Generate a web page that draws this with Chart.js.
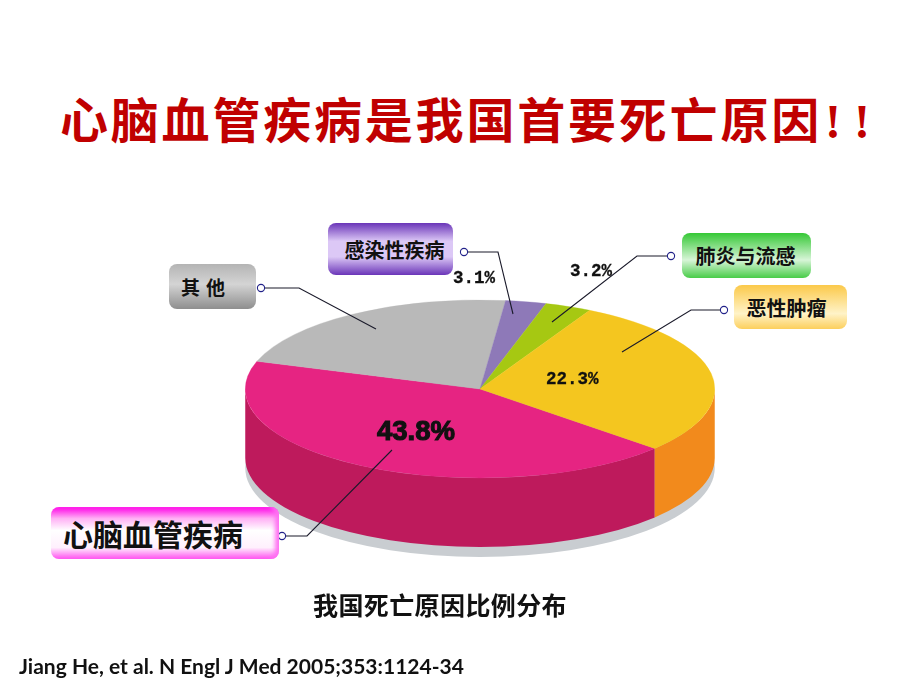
<!DOCTYPE html>
<html>
<head>
<meta charset="utf-8">
<title>我国死亡原因比例分布</title>
<script src="https://cdn.jsdelivr.net/npm/chart.js@4"></script>
<style>
  html, body { margin: 0; padding: 0; background: #fff; overflow: hidden; }
  #page { position: relative; width: 920px; height: 690px; overflow: hidden; }
  #page div { position: absolute; white-space: nowrap; }
  #pieWrap { left: 245px; top: 154px; width: 470px; height: 470px; }
  #leaders { position: absolute; left: 0; top: 0; }
  #title { left: 60px; top: 82px; font: 700 48px/70px "Noto Sans CJK SC"; letter-spacing: 2.8px; color: #c00000; }
  #title span { font-family: "Liberation Serif"; letter-spacing: 13px; margin-left: 3px; }
  .box { display: flex; align-items: center; justify-content: center; box-sizing: border-box;
         font-family: "Noto Sans CJK SC"; font-weight: 700; color: #111; border-radius: 8px; }
  .val { font: 700 17.5px/22px "Liberation Mono"; color: #111; -webkit-text-stroke: 0.3px #111; }
  #bigVal { left: 377px; top: 415px; font: 700 27.5px/32px "Liberation Sans"; color: #111;
            -webkit-text-stroke: 1.1px #111; }
  #caption { left: 313px; top: 587px; font: 700 25px/34px "Noto Sans CJK SC"; letter-spacing: 0.4px; color: #111; }
  #cite { left: 19px; top: 651px; font: 700 21px/30px Lato; color: #111; }
</style>
</head>
<body>
<div id="page">
  <div id="title">心脑血管疾病是我国首要死亡原因<span>!!</span></div>
  <div id="pieWrap"><canvas id="pie" width="470" height="470"></canvas></div>
  <svg id="leaders" width="920" height="690"></svg>
  <div id="caption">我国死亡原因比例分布</div>
  <div id="cite">Jiang He, et al. N Engl J Med 2005;353:1124-34</div>
</div>
<script>
// slice order runs clockwise from the pink slice
const categories = ['心脑血管疾病', '其他', '感染性疾病', '肺炎与流感', '恶性肿瘤'];
// printed percentages, as they appear on the slide (其他 has none)
const printedLabels = ['43.8%', '', '3.1%', '3.2%', '22.3%'];
const drawnShares = [43.4, 21.7, 2.8, 3.2, 28.9];
const topColors = ['#e62482', '#b9b9b9', '#8e79b8', '#a6c812', '#f4c61f'];
const sideColors = ['#be1a5c', '#9a9a9a', '#73609c', '#88a40e', '#f28a1c'];

const startRotation = 131.9;
const squash = 0.379;
const pieDepth = 69;
const shadowDrop = 79;

const boxes = [
  { left: 51, top: 507, w: 228, h: 52, size: 30, extra: 'padding-right:24px;box-shadow:inset -5px 0 4px -1px #ff70f2', bg: 'linear-gradient(#ff00e6 0%, #ffb0f5 22%, #fff 45%, #fff0fd 78%, #ff50f0 100%)' },
  { left: 169, top: 264, w: 87, h: 45, size: 19, extra: 'letter-spacing:6px;padding-right:13px', bg: 'linear-gradient(#b4b4b4 0%, #d4d4d4 45%, #8e8e8e 100%)' },
  { left: 328, top: 223, w: 125, h: 52, size: 20, extra: 'padding-left:8px', bg: 'linear-gradient(#6a35b8 0%, #dcc8f6 35%, #dcc8f6 65%, #6a35b8 100%)' },
  { left: 682, top: 233, w: 129, h: 45, size: 20, extra: 'padding-right:2px', bg: 'linear-gradient(#35c835 0%, #d8f5d8 60%, #48cc48 100%)' },
  { left: 734, top: 285, w: 113, h: 44, size: 20, extra: 'padding-right:8px', bg: 'linear-gradient(#fbc94a 0%, #fff3c8 65%, #fccf5c 100%)' }
];
const valuePositions = [null, null, [453, 267], [570, 260], [546, 368]];
// [dot, elbow, end in the pie]
const leaderLines = [
  [[282, 536], [307, 536], [392, 450]],
  [[261, 288], [299, 288], [376, 329]],
  [[464, 252], [498, 252], [513, 314]],
  [[671, 256], [637, 256], [552, 322]],
  [[724, 310], [691, 310], [622, 352]]
];

function drawWall(ctx, arc, color) {
  const ry = arc.outerRadius * squash;
  // only the front half of the cylinder can be seen
  for (let shift = -2; shift <= 2; shift++) {
    const from = Math.max(arc.startAngle + shift * 2 * Math.PI, 0);
    const to = Math.min(arc.endAngle + shift * 2 * Math.PI, Math.PI);
    if (to <= from) continue;
    ctx.beginPath();
    ctx.ellipse(arc.x, arc.y, arc.outerRadius, ry, 0, from, to);
    ctx.ellipse(arc.x, arc.y + pieDepth, arc.outerRadius, ry, 0, to, from, true);
    ctx.closePath();
    ctx.fillStyle = color;
    ctx.fill();
  }
}

const flatPiePlugin = {
  id: 'flatPie',
  beforeDatasetsDraw(chart) {
    const ctx = chart.ctx;
    const arcs = chart.getDatasetMeta(0).data;
    const cx = arcs[0].x, cy = arcs[0].y, r = arcs[0].outerRadius;
    ctx.save();
    ctx.beginPath();
    ctx.ellipse(cx, cy + shadowDrop, r, r * squash, 0, 0, 2 * Math.PI);
    ctx.fillStyle = '#c9cdd1';
    ctx.fill();
    arcs.forEach((arc, i) => drawWall(ctx, arc, sideColors[i]));
    ctx.restore();
    ctx.save();
    ctx.translate(0, cy);
    ctx.scale(1, squash);
    ctx.translate(0, -cy);
  },
  afterDatasetsDraw(chart) {
    chart.ctx.restore();
  }
};

function addBoxes(page) {
  boxes.forEach((b, i) => {
    const el = document.createElement('div');
    el.className = 'box';
    el.textContent = categories[i];
    el.style.cssText = `left:${b.left}px;top:${b.top}px;width:${b.w}px;height:${b.h}px;font-size:${b.size}px;background:${b.bg};${b.extra}`;
    page.appendChild(el);
  });
}

function addValues(page) {
  printedLabels.forEach((text, i) => {
    if (!text || !valuePositions[i]) return;
    const el = document.createElement('div');
    el.className = 'val';
    el.textContent = text;
    el.style.left = valuePositions[i][0] + 'px';
    el.style.top = valuePositions[i][1] + 'px';
    page.appendChild(el);
  });
  const big = document.createElement('div');
  big.id = 'bigVal';
  big.textContent = printedLabels[0];
  page.appendChild(big);
}

function addLeaders() {
  const svg = document.querySelector('#leaders');
  let out = '';
  leaderLines.forEach((pts) => {
    out += `<polyline points="${pts.map(p => p.join(',')).join(' ')}" fill="none" stroke="#1a1a2a" stroke-width="1.1"/>`;
    out += `<circle cx="${pts[0][0]}" cy="${pts[0][1]}" r="3.6" fill="#fff" stroke="#22228a" stroke-width="1.1"/>`;
  });
  svg.innerHTML = out;
}

function mainEvent() {
  const page = document.querySelector('#page');
  addLeaders();
  addBoxes(page);
  addValues(page);

  new Chart(document.querySelector('#pie'), {
    type: 'pie',
    data: {
      labels: categories,
      datasets: [{
        data: drawnShares,
        backgroundColor: topColors,
        borderColor: topColors,
        borderWidth: 0.5
      }]
    },
    options: {
      responsive: false,
      animation: false,
      rotation: startRotation,
      layout: { padding: 0 },
      plugins: { legend: { display: false }, tooltip: { enabled: false } }
    },
    plugins: [flatPiePlugin]
  });
}

document.addEventListener('DOMContentLoaded', mainEvent);
</script>
</body>
</html>
